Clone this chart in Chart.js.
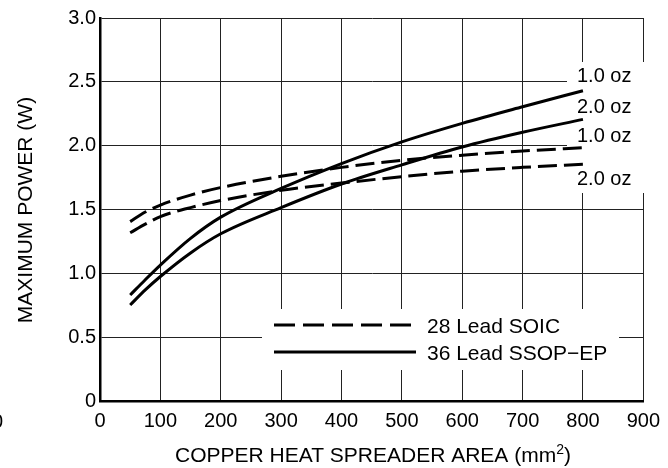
<!DOCTYPE html>
<html>
<head>
<meta charset="utf-8">
<script src="https://cdn.jsdelivr.net/npm/chart.js@4/dist/chart.umd.min.js"></script>
<style>
  html, body { margin: 0; padding: 0; background: #fff; }
  #wrap { width: 668px; height: 468px; }
</style>
</head>
<body>
<div id="wrap"><canvas id="c" width="668" height="468"></canvas></div>
<script>
// ---- data ----
const areas   = [50, 75, 100, 150, 200, 300, 400, 500, 600, 700, 800];
const soic1oz = [1.405, 1.48, 1.535, 1.613, 1.672, 1.76, 1.83, 1.885, 1.925, 1.958, 1.984];
const soic2oz = [1.318, 1.385, 1.445, 1.515, 1.57, 1.65, 1.707, 1.757, 1.80, 1.83, 1.854];
const ssop1oz = [0.83, 0.95, 1.065, 1.274, 1.44, 1.665, 1.86, 2.03, 2.175, 2.305, 2.43];
const ssop2oz = [0.752, 0.87, 0.975, 1.16, 1.31, 1.515, 1.70, 1.85, 1.99, 2.105, 2.206];
const yTickLabels = ['0', '0.5', '1.0', '1.5', '2.0', '2.5', '3.0'];
const xTickLabels = ['0', '100', '200', '300', '400', '500', '600', '700', '800', '900'];
const seriesLabels = ['28 Lead SOIC', '36 Lead SSOP\u2212EP'];
const curveLabels = ['1.0 oz', '2.0 oz', '1.0 oz', '2.0 oz'];
const xTitle = 'COPPER HEAT SPREADER AREA (mm';
const yTitle = 'MAXIMUM POWER (W)';

const FONT = '"Liberation Sans", Arial, Helvetica, sans-serif';
const pts = arr => areas.map((x, i) => ({ x: x, y: arr[i] }));

const dashStyle = [19, 7];
function ds(label, arr, dashed) {
  return {
    label: label, data: pts(arr),
    borderColor: '#000', borderWidth: 3,
    borderDash: dashed ? dashStyle : [],
    borderCapStyle: 'butt',
    pointRadius: 0, fill: false,
    cubicInterpolationMode: 'monotone'
  };
}

const overlay = {
  id: 'overlay',
  beforeDatasetsDraw(chart) {
    const ctx = chart.ctx;
    ctx.save();
    ctx.fillStyle = '#fff';
    ctx.fillRect(567, 62, 77, 131);   // box behind curve labels
    ctx.fillRect(262, 309, 357, 61);  // legend box
    ctx.restore();
  },
  afterDatasetsDraw(chart) {
    const ctx = chart.ctx;
    ctx.save();
    ctx.fillStyle = '#000';
    ctx.textBaseline = 'alphabetic';
    ctx.textAlign = 'left';
    ctx.font = '20px ' + FONT;
    // curve labels
    const ly = [82, 113, 142, 185];
    curveLabels.forEach((t, i) => ctx.fillText(t, 577, ly[i]));
    // legend
    ctx.strokeStyle = '#000';
    ctx.lineWidth = 3;
    ctx.lineCap = 'butt';
    ctx.setLineDash([21, 8]);
    ctx.beginPath(); ctx.moveTo(274, 325); ctx.lineTo(416, 325); ctx.stroke();
    ctx.setLineDash([]);
    ctx.beginPath(); ctx.moveTo(274, 352); ctx.lineTo(416, 352); ctx.stroke();
    ctx.font = '21px ' + FONT;
    ctx.fillText(seriesLabels[0], 427, 333);
    ctx.fillText(seriesLabels[1], 427, 360);
    // x title with superscript
    ctx.font = '21px ' + FONT;
    const w1 = ctx.measureText(xTitle).width;
    ctx.font = '14px ' + FONT;
    const w2 = ctx.measureText('2').width;
    ctx.font = '21px ' + FONT;
    const w3 = ctx.measureText(')').width;
    let x0 = 373 - (w1 + w2 + w3) / 2;
    ctx.fillText(xTitle, x0, 462);
    ctx.font = '14px ' + FONT;
    ctx.fillText('2', x0 + w1, 454);
    ctx.font = '21px ' + FONT;
    ctx.fillText(')', x0 + w1 + w2, 462);
    // y title
    ctx.save();
    ctx.translate(32, 210);
    ctx.rotate(-Math.PI / 2);
    ctx.textAlign = 'center';
    ctx.fillText(yTitle, 0, 0);
    ctx.restore();
    // clipped stray label at the left edge
    ctx.font = '20px ' + FONT;
    ctx.textAlign = 'right';
    ctx.textBaseline = 'middle';
    ctx.fillText('0', 3, 422);
    ctx.restore();
  }
};

new Chart(document.getElementById('c'), {
  type: 'line',
  data: {
    datasets: [
      ds(seriesLabels[0] + ' 1.0 oz', soic1oz, true),
      ds(seriesLabels[0] + ' 2.0 oz', soic2oz, true),
      ds(seriesLabels[1] + ' 1.0 oz', ssop1oz, false),
      ds(seriesLabels[1] + ' 2.0 oz', ssop2oz, false)
    ]
  },
  options: {
    responsive: false,
    animation: false,
    devicePixelRatio: 1,
    layout: { padding: { top: 18, right: 21, left: 0, bottom: 0 } },
    plugins: { legend: { display: false }, tooltip: { enabled: false }, title: { display: false } },
    scales: {
      x: {
        type: 'linear', min: 0, max: 900,
        ticks: {
          stepSize: 100, color: '#000', padding: 8, maxRotation: 0,
          font: { family: FONT, size: 20 },
          callback: (v, i) => xTickLabels[i]
        },
        grid: { color: '#222', lineWidth: 1, drawTicks: false },
        border: { display: true, color: '#000', width: 2.5 },
        afterFit: s => { s.height = 67; }
      },
      y: {
        min: 0, max: 3,
        ticks: {
          stepSize: 0.5, color: '#000', padding: 4,
          font: { family: FONT, size: 20 },
          callback: (v, i) => yTickLabels[i]
        },
        grid: { color: '#222', lineWidth: 1, drawTicks: false },
        border: { display: true, color: '#000', width: 2.5 },
        afterFit: s => { s.width = 100; }
      }
    }
  },
  plugins: [overlay]
});
</script>
</body>
</html>
